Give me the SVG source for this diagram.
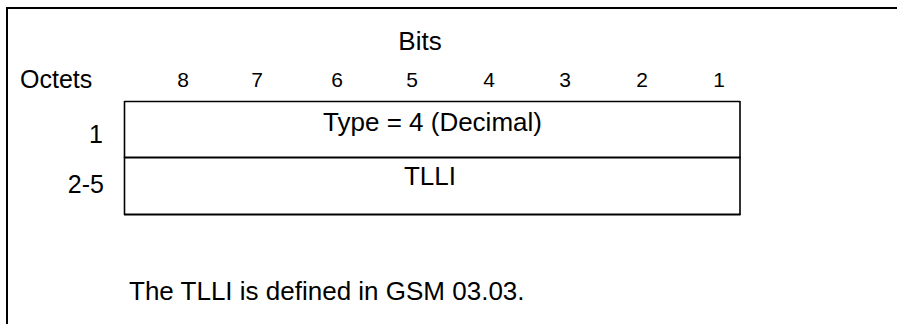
<svg xmlns="http://www.w3.org/2000/svg" width="897" height="324" viewBox="0 0 897 324">
<style>
text{font-family:"Liberation Sans",Arial,sans-serif;fill:#000}
.m{font-size:26px}
.s{font-size:25px}
.d{font-size:21px;text-anchor:middle}
.c{text-anchor:middle}
.r{text-anchor:end}
.ln{stroke:#000;fill:none}
</style>
<rect width="897" height="324" fill="#fff"/>
<g id="frame">
<path class="ln" d="M6,8 H897 M7,8 V324" stroke-width="2"/>
</g>
<g id="header">
<text class="m c" x="420" y="50">Bits</text>
<text class="s" x="20" y="88">Octets</text>
<text class="d" x="183" y="87">8</text>
<text class="d" x="257" y="87">7</text>
<text class="d" x="337" y="87">6</text>
<text class="d" x="412" y="87">5</text>
<text class="d" x="489" y="87">4</text>
<text class="d" x="565" y="87">3</text>
<text class="d" x="642" y="87">2</text>
<text class="d" x="719" y="87">1</text>
</g>
<g id="octet1">
<path class="ln" d="M124.5,101.5 H740" stroke-width="1.3"/>
<path class="ln" d="M124.5,101 V158 M740,101 V158" stroke-width="1.6"/>
<text class="m c" x="432.5" y="130.5">Type = 4 (Decimal)</text>
<text class="s r" x="103" y="143">1</text>
</g>
<g id="octet2-5">
<path class="ln" d="M124,157.5 H740.5 M124,214.5 H740.5" stroke-width="2"/>
<path class="ln" d="M124.5,157 V215 M740,157 V215" stroke-width="1.6"/>
<text class="m c" x="430" y="185">TLLI</text>
<text class="s r" x="104" y="193">2-5</text>
</g>
<g id="note">
<text class="m" x="129" y="300">The TLLI is defined in GSM 03.03.</text>
</g>
<g id="connectors"/>
</svg>
